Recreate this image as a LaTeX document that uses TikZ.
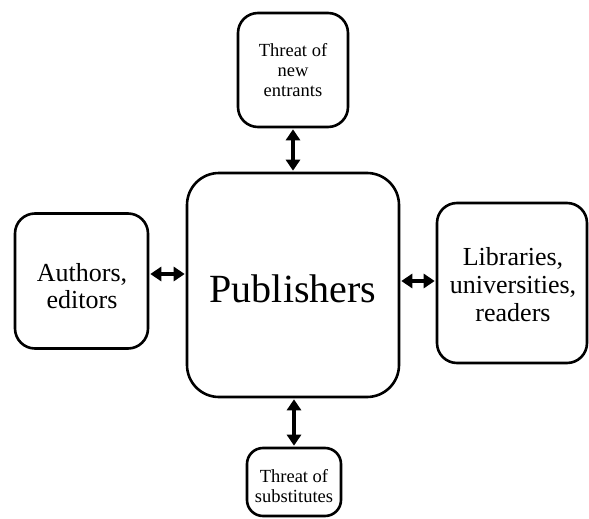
\documentclass[tikz,border=0pt]{standalone}
\usepackage{fontspec}
\setmainfont{Liberation Serif}
\usetikzlibrary{arrows.meta}
\tikzset{
  box/.style={draw=black, line width=2.6pt, rounded corners=#1, align=center, inner sep=0pt},
  box/.default=20pt,
  arr/.style={line width=4pt, {Triangle[length=11pt,width=14pt]}-{Triangle[length=11pt,width=14pt]}, shorten <=1pt, shorten >=1pt},
  side/.style={font=\fontsize{26}{27}\selectfont, align=center},
  threat/.style={font=\fontsize{18.5}{20}\selectfont, align=center}
}
\begin{document}
\begin{tikzpicture}[x=1pt,y=-1pt]
\useasboundingbox (0,0) rectangle (589,519);
\clip (0,0) rectangle (589,519);
\fill[white] (0,0) rectangle (589,519);
\node[box=32pt, minimum width=212pt, minimum height=224pt] (pub) at (293,285) {};
\node[font=\fontsize{40}{44}\selectfont] (pubT) at (293,289) {Publishers};
\node[box, minimum width=110pt, minimum height=114pt, threat] (new) at (293,70) {Threat of\\new\\entrants};
\node[box, minimum width=133pt, minimum height=135pt] (auth) at (81.5,281) {};
\node[side] (authT) at (82,286) {Authors,\\editors};
\node[box, minimum width=150pt, minimum height=160pt] (lib) at (512,283) {};
\node[side, font=\fontsize{26}{28}\selectfont] (libT) at (513,285) {Libraries,\\universities,\\readers};
\node[box=16pt, minimum width=94pt, minimum height=68pt] (sub) at (294,482) {};
\node[threat] (subT) at (294,486) {Threat of\\substitutes};
\draw[arr] (new.south) -- (new.south |- pub.north);
\draw[arr] ([xshift=1pt]pub.south) -- ([xshift=1pt]pub.south |- sub.north);
\draw[arr] ([yshift=7pt]auth.east) -- ([yshift=7pt]auth.east -| pub.west);
\draw[arr] ([yshift=2pt]lib.west) -- ([yshift=2pt]lib.west -| pub.east);
\end{tikzpicture}
\end{document}
